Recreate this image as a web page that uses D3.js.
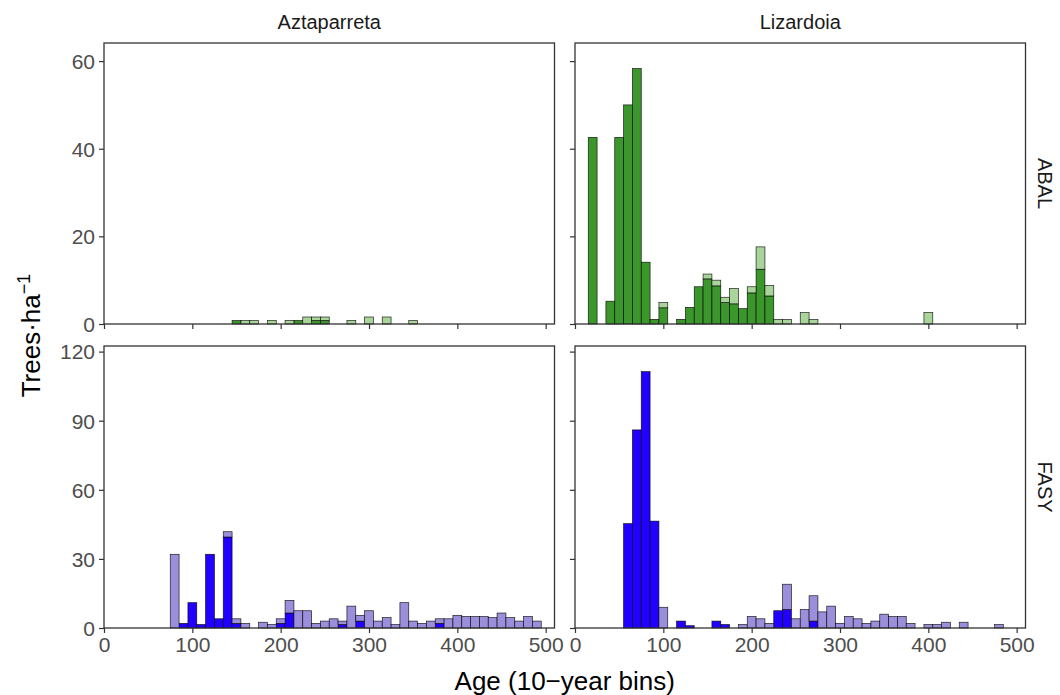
<!DOCTYPE html>
<html>
<head>
<meta charset="utf-8">
<script src="https://cdn.jsdelivr.net/npm/d3@7/dist/d3.min.js"></script>
<style>
  body { margin: 0; background: #fff; }
  text { font-family: "Liberation Sans", Arial, sans-serif; }
</style>
</head>
<body>
<svg id="chart" width="1060" height="695"></svg>
<script>
const sites = ['Aztaparreta', 'Lizardoia'];
const species = ['ABAL', 'FASY'];
const xTicks = [0, 100, 200, 300, 400, 500];
const yTicksAbal = [0, 20, 40, 60];
const yTicksFasy = [0, 30, 60, 90, 120];

// Aztaparreta - ABAL
const aztAbalAge   = [150, 160, 170, 190, 210, 220, 230, 240, 250, 280, 300, 320, 350];
const aztAbalDark  = [0.8, 0, 0, 0, 0, 0.8, 0, 0.8, 0.8, 0, 0, 0, 0];
const aztAbalLight = [0, 0.8, 0.8, 0.8, 0.8, 0, 1.6, 0.8, 0.8, 0.8, 1.6, 1.6, 0.8];

// Lizardoia - ABAL
const lizAbalAge   = [20, 40, 50, 60, 70, 80, 90, 100, 120, 130, 140, 150, 160, 170, 180, 190, 200, 210, 220, 230, 240, 260, 270, 400];
const lizAbalDark  = [42.6, 5.2, 42.6, 50, 58.3, 14.1, 1.06, 3.7, 1.06, 3.8, 8.5, 10.3, 8.7, 4.9, 4.6, 3.5, 7.1, 12.5, 6.4, 0, 0, 0, 0, 0];
const lizAbalLight = [0, 0, 0, 0, 0, 0, 0, 1.2, 0, 0, 0, 1.1, 1.3, 1.2, 3.5, 0, 1.4, 5.1, 2.4, 1.06, 1.06, 2.6, 1.06, 2.6];

// Aztaparreta - FASY
const aztFasyAge   = [80, 90, 100, 110, 120, 130, 140, 150, 160, 180, 190, 200, 210, 220, 230, 240, 250, 260, 270, 280, 290, 300, 310, 320, 330, 340, 350, 360, 370, 380, 390, 400, 410, 420, 430, 440, 450, 460, 470, 480, 490];
const aztFasyDark  = [0, 2, 11, 1.5, 32, 4, 39.5, 2, 0, 0, 0, 2, 6.5, 0, 0, 0, 0, 0, 1.5, 0, 3, 0, 0, 0, 0, 0, 0, 0, 0, 2, 0, 0, 0, 0, 0, 0, 0, 0, 0, 0, 0];
const aztFasyLight = [32, 0, 0, 0, 0, 0, 2.3, 2, 2, 2.5, 1.5, 2, 5.5, 7.5, 7.5, 2, 3, 4, 1.5, 9.5, 2.5, 7.5, 3, 4.5, 1.5, 11, 3, 2, 3, 2, 4, 5.5, 5, 5, 5, 4.5, 6.5, 4.5, 3, 5, 3];

// Lizardoia - FASY
const lizFasyAge   = [60, 70, 80, 90, 100, 120, 130, 160, 170, 190, 200, 210, 220, 230, 240, 250, 260, 270, 280, 290, 300, 310, 320, 330, 340, 350, 360, 370, 380, 400, 410, 420, 440, 480];
const lizFasyDark  = [45.3, 86, 111.3, 46.4, 0, 3, 1, 3, 1.5, 0, 0, 0, 0, 7.5, 8, 0, 0, 3, 0, 0, 0, 0, 0, 0, 0, 0, 0, 0, 0, 0, 0, 0, 0, 0];
const lizFasyLight = [0, 0, 0, 0, 9, 0, 0, 0, 0, 1.5, 5, 4, 2, 0, 11, 4, 8, 11, 7, 9.5, 2, 5, 4, 2, 3, 6, 5, 5, 2, 1.5, 1.5, 2.5, 2.5, 1.5];

const darkColor  = { ABAL: '#3b962c', FASY: '#2200ff' };
const lightColor = { ABAL: '#a9d59a', FASY: '#9b8fdb' };

function makeBins(ages, dark, light) {
    return ages.map((a, i) => ({ age: a, dark: dark[i], light: light[i] }));
}

const panels = [
    { site: 'Aztaparreta', sp: 'ABAL', col: 0, row: 0, bins: makeBins(aztAbalAge, aztAbalDark, aztAbalLight) },
    { site: 'Lizardoia',   sp: 'ABAL', col: 1, row: 0, bins: makeBins(lizAbalAge, lizAbalDark, lizAbalLight) },
    { site: 'Aztaparreta', sp: 'FASY', col: 0, row: 1, bins: makeBins(aztFasyAge, aztFasyDark, aztFasyLight) },
    { site: 'Lizardoia',   sp: 'FASY', col: 1, row: 1, bins: makeBins(lizFasyAge, lizFasyDark, lizFasyLight) }
];

const colX = [104, 575];
const rowY = [43, 346];
const panelW = 450.5;
const rowH = [281, 282];
const binWidth = 10;

const svg = d3.select('#chart');

const x = d3.scaleLinear().domain([0, 510]).range([0, panelW]);

// shared y scale per row (max stacked height + 10%)
const yScales = species.map((sp, r) => {
    const rowMax = d3.max(panels.filter(p => p.sp === sp), p => d3.max(p.bins, b => b.dark + b.light));
    return d3.scaleLinear().domain([0, rowMax * 1.1]).range([rowH[r], 0]);
});
const yTicks = [yTicksAbal, yTicksFasy];

panels.forEach(p => {
    const y = yScales[p.row];
    const g = svg.append('g')
        .attr('transform', `translate(${colX[p.col]},${rowY[p.row]})`);

    const bars = g.append('g');
    // dark layer at the bottom
    bars.selectAll('rect.dark')
        .data(p.bins.filter(b => b.dark > 0))
        .enter()
        .append('rect')
        .attr('class', 'dark')
        .attr('x', d => x(d.age - binWidth / 2))
        .attr('width', d => x(d.age + binWidth / 2) - x(d.age - binWidth / 2))
        .attr('y', d => y(d.dark))
        .attr('height', d => y(0) - y(d.dark))
        .attr('fill', darkColor[p.sp]);

    // light layer stacked on top
    bars.selectAll('rect.light')
        .data(p.bins.filter(b => b.light > 0))
        .enter()
        .append('rect')
        .attr('class', 'light')
        .attr('x', d => x(d.age - binWidth / 2))
        .attr('width', d => x(d.age + binWidth / 2) - x(d.age - binWidth / 2))
        .attr('y', d => y(d.dark + d.light))
        .attr('height', d => y(d.dark) - y(d.dark + d.light))
        .attr('fill', lightColor[p.sp]);

    bars.selectAll('rect')
        .attr('stroke', '#000')
        .attr('stroke-width', 0.7)
        .attr('stroke-opacity', 0.85);

    // axes
    const xAxis = d3.axisBottom(x).tickValues(xTicks).tickSize(5).tickPadding(4);
    if (p.row === 0) xAxis.tickFormat('');
    const yAxis = d3.axisLeft(y).tickValues(yTicks[p.row]).tickSize(5).tickPadding(4);
    if (p.col === 1) yAxis.tickFormat('');

    const gx = g.append('g').attr('transform', `translate(0,${rowH[p.row]})`).call(xAxis);
    const gy = g.append('g').call(yAxis);
    [gx, gy].forEach(a => {
        a.select('.domain').remove();
        a.selectAll('.tick line').attr('stroke', '#333').attr('stroke-width', 1.2);
        a.selectAll('.tick text')
            .attr('fill', '#4d4d4d')
            .style('font-size', '21px');
    });
    gy.selectAll('.tick text').attr('dy', '0.35em');

    // panel border
    g.append('rect')
        .attr('width', panelW)
        .attr('height', rowH[p.row])
        .attr('fill', 'none')
        .attr('stroke', '#333')
        .attr('stroke-width', 1.3);
});

// column strips
sites.forEach((s, i) => {
    svg.append('text')
        .attr('x', colX[i] + panelW / 2)
        .attr('y', 29)
        .attr('text-anchor', 'middle')
        .attr('fill', '#1a1a1a')
        .style('font-size', '20px')
        .text(s);
});

// row strips
species.forEach((sp, r) => {
    svg.append('text')
        .attr('transform', `translate(1038,${rowY[r] + rowH[r] / 2}) rotate(90)`)
        .attr('text-anchor', 'middle')
        .attr('fill', '#1a1a1a')
        .style('font-size', '20px')
        .text(sp);
});

// axis titles
svg.append('text')
    .attr('x', (colX[0] + colX[1] + panelW) / 2)
    .attr('y', 690)
    .attr('text-anchor', 'middle')
    .attr('fill', '#000')
    .style('font-size', '26px')
    .text('Age (10\u2212year bins)');

const yTitle = svg.append('text')
    .attr('transform', `translate(40,${(rowY[0] + rowY[1] + rowH[1]) / 2}) rotate(-90)`)
    .attr('text-anchor', 'middle')
    .attr('fill', '#000')
    .style('font-size', '26px');
yTitle.append('tspan').text('Trees\u00b7ha');
yTitle.append('tspan').attr('dy', -10).style('font-size', '18px').text('\u22121');
</script>
</body>
</html>
